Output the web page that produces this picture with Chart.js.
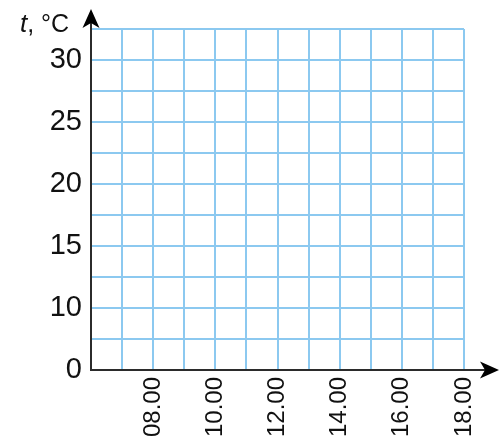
<!DOCTYPE html>
<html>
<head>
<meta charset="utf-8">
<script src="https://cdn.jsdelivr.net/npm/chart.js@4"></script>
<style>
	body { margin: 0; background: #fff; }
	canvas { display: block; }
</style>
</head>
<body>
<canvas id="chart" width="500" height="444"></canvas>
<script>
// часы на оси X (сетка через час, подписи через два)
const hours = [6, 7, 8, 9, 10, 11, 12, 13, 14, 15, 16, 17, 18];
const hourLabels = ['', '', '08.00', '', '10.00', '', '12.00', '', '14.00', '', '16.00', '', '18.00'];

// ось Y с разрывом: 0, затем сразу 10
const tempTicks = [5, 7.5, 10, 12.5, 15, 17.5, 20, 22.5, 25, 27.5, 30, 32.5];
const tempLabels = ['0', '', '10', '', '15', '', '20', '', '25', '', '30', ''];

// пустой график, рядов нет
const seriesValues = [];

const gridColor = '#8cc9f0';
const axisColor = '#2b2b2b';
const fontFamily = '"Liberation Sans", Arial, sans-serif';

function drawArrow(ctx, x, y, dir) {
	// dir: 'up' или 'right'
	ctx.save();
	ctx.translate(x, y);
	if (dir === 'right') ctx.rotate(Math.PI / 2);
	ctx.beginPath();
	ctx.moveTo(0, 0);
	ctx.lineTo(8.5, 19);
	ctx.lineTo(0, 14);
	ctx.lineTo(-8.5, 19);
	ctx.closePath();
	ctx.fillStyle = '#000';
	ctx.fill();
	ctx.restore();
}

const axesPlugin = {
	id: 'axesPlugin',
	afterDraw(chart) {
		const { ctx, chartArea } = chart;
		const x0 = chartArea.left;
		const y0 = chartArea.bottom;
		ctx.save();
		ctx.strokeStyle = axisColor;
		ctx.lineWidth = 2;
		ctx.beginPath();
		ctx.moveTo(x0, y0 + 1);
		ctx.lineTo(x0, 18);
		ctx.moveTo(x0 - 1, y0);
		ctx.lineTo(chart.width - 8, y0);
		ctx.stroke();
		drawArrow(ctx, x0, 9, 'up');
		drawArrow(ctx, chart.width - 1, y0, 'right');

		// подпись оси Y
		ctx.fillStyle = '#111';
		ctx.textBaseline = 'alphabetic';
		ctx.textAlign = 'left';
		ctx.font = 'italic 26px ' + fontFamily;
		ctx.fillText('t', 20, 32);
		const tw = ctx.measureText('t').width;
		ctx.font = '25px ' + fontFamily;
		ctx.fillText(', °C', 20 + tw, 32);
		ctx.restore();
	}
};

new Chart(document.getElementById('chart'), {
	type: 'scatter',
	data: {
		datasets: [{
			data: seriesValues
		}]
	},
	options: {
		responsive: false,
		animation: false,
		devicePixelRatio: 1,
		layout: {
			padding: { top: 29, right: 36, bottom: 0, left: 0 }
		},
		plugins: {
			legend: { display: false },
			tooltip: { enabled: false }
		},
		scales: {
			x: {
				type: 'linear',
				min: hours[0],
				max: hours[hours.length - 1],
				afterBuildTicks: (scale) => {
					scale.ticks = hours.map(v => ({ value: v }));
				},
				afterFit: (scale) => { scale.height = 74; },
				grid: {
					color: gridColor,
					lineWidth: 2,
					drawTicks: false
				},
				border: { display: false },
				ticks: {
					minRotation: 90,
					maxRotation: 90,
					autoSkip: false,
					padding: 7,
					color: '#111',
					font: { family: fontFamily, size: 24 },
					callback: (value) => hourLabels[hours.indexOf(value)]
				}
			},
			y: {
				type: 'linear',
				min: tempTicks[0],
				max: tempTicks[tempTicks.length - 1],
				afterBuildTicks: (scale) => {
					scale.ticks = tempTicks.map(v => ({ value: v }));
				},
				afterFit: (scale) => { scale.width = 91; },
				grid: {
					color: gridColor,
					lineWidth: 2,
					drawTicks: false
				},
				border: { display: false },
				ticks: {
					autoSkip: false,
					padding: 9,
					color: '#111',
					font: { family: fontFamily, size: 29 },
					callback: (value) => tempLabels[tempTicks.indexOf(value)]
				}
			}
		}
	},
	plugins: [axesPlugin]
});
</script>
</body>
</html>
